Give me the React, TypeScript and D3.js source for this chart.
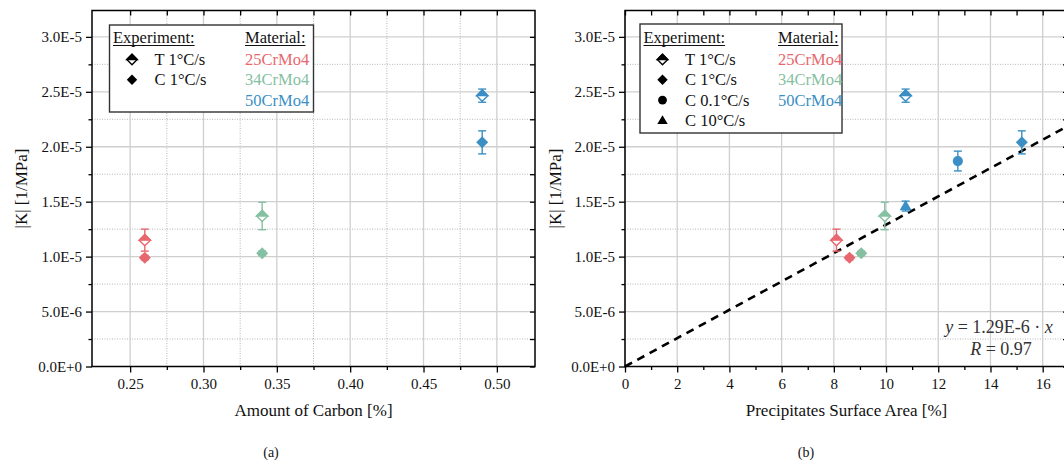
import { useEffect, useRef } from 'react';
import * as d3 from 'd3';

// materials and their colours
const materials = ['25CrMo4', '34CrMo4', '50CrMo4'];
const materialColors = ['#e8676e', '#86c0a2', '#3b8fc5'];
const carbonContent = [0.26, 0.34, 0.49];

// T 1°C/s
const tensionK = [1.15e-5, 1.37e-5, 2.465e-5];
const tensionErr = [0.1e-5, 0.125e-5, 0.06e-5];
const tensionArea = [8.1, 9.95, 10.75];

// C 1°C/s
const compK = [0.99e-5, 1.03e-5, 2.04e-5];
const compErr = [0.02e-5, 0.02e-5, 0.105e-5];
const compArea = [8.6, 9.05, 15.2];

// C 0.1°C/s and C 10°C/s (50CrMo4 only)
const slowK = [1.87e-5];
const slowErr = [0.09e-5];
const slowArea = [12.75];
const fastK = [1.46e-5];
const fastErr = [0.045e-5];
const fastArea = [10.75];

const yTicks = [0, 5e-6, 1e-5, 1.5e-5, 2e-5, 2.5e-5, 3e-5];
const yTickLabels = ['0.0E+0', '5.0E-6', '1.0E-5', '1.5E-5', '2.0E-5', '2.5E-5', '3.0E-5'];
const yMinor = [2.5e-6, 7.5e-6, 1.25e-5, 1.75e-5, 2.25e-5, 2.75e-5];
const carbonTicks = [0.25, 0.3, 0.35, 0.4, 0.45, 0.5];
const carbonMinor = [0.275, 0.325, 0.375, 0.425, 0.475];
const areaTicks = [0, 2, 4, 6, 8, 10, 12, 14, 16];
const areaMinor = [1, 3, 5, 7, 9, 11, 13, 15];
const fitSlope = 1.29e-6;

const FONT = 'Liberation Serif, Times New Roman, serif';

function diamond(r) {
  return `M0,${-r}L${r},0L0,${r}L${-r},0Z`;
}
function halfDiamond(r) {
  return `M${-r},0L0,${-r}L${r},0Z`;
}

function marker(g, shape, x, y, color, r) {
  const t = `translate(${x},${y})`;
  if (shape === 'half') {
    g.append('path').attr('d', diamond(r)).attr('transform', t)
      .attr('fill', '#fff').attr('stroke', color).attr('stroke-width', 1.4);
    g.append('path').attr('d', halfDiamond(r)).attr('transform', t)
      .attr('fill', color).attr('stroke', color).attr('stroke-width', 1.4);
  } else if (shape === 'diamond') {
    g.append('path').attr('d', diamond(r)).attr('transform', t).attr('fill', color);
  } else if (shape === 'circle') {
    g.append('circle').attr('cx', x).attr('cy', y).attr('r', r * 0.85).attr('fill', color);
  } else {
    g.append('path')
      .attr('d', `M0,${-r}L${r},${r * 0.7}L${-r},${r * 0.7}Z`)
      .attr('transform', t).attr('fill', color);
  }
}

function errorBar(g, x, y0, y1, color) {
  g.append('line').attr('x1', x).attr('x2', x).attr('y1', y0).attr('y2', y1)
    .attr('stroke', color).attr('stroke-width', 1.4);
  [y0, y1].forEach((yy) => {
    g.append('line').attr('x1', x - 4).attr('x2', x + 4).attr('y1', yy).attr('y2', yy)
      .attr('stroke', color).attr('stroke-width', 1.4);
  });
}

function drawPanel(svg, cfg) {
  const { x, y, majorX, minorX, minorGridX, xFormat, xTitle, caption, captionX, labelX } = cfg;
  const [left, right] = x.range();
  const [bottom, top] = y.range();
  const g = svg.append('g');

  // grid
  if (minorGridX) {
    g.selectAll('.gxm').data(minorX).enter().append('line')
      .attr('x1', (d) => x(d)).attr('x2', (d) => x(d)).attr('y1', top).attr('y2', bottom)
      .attr('stroke', '#b5b5b5').attr('stroke-width', 1).attr('stroke-dasharray', '1,1.5');
  }
  g.selectAll('.gym').data(yMinor).enter().append('line')
    .attr('x1', left).attr('x2', right).attr('y1', (d) => y(d)).attr('y2', (d) => y(d))
    .attr('stroke', '#b5b5b5').attr('stroke-width', 1).attr('stroke-dasharray', '1,1.5');
  g.selectAll('.gx').data(majorX).enter().append('line')
    .attr('x1', (d) => x(d)).attr('x2', (d) => x(d)).attr('y1', top).attr('y2', bottom)
    .attr('stroke', '#cfcfcf').attr('stroke-width', 1.3);
  g.selectAll('.gy').data(yTicks.slice(1)).enter().append('line')
    .attr('x1', left).attr('x2', right).attr('y1', (d) => y(d)).attr('y2', (d) => y(d))
    .attr('stroke', '#cfcfcf').attr('stroke-width', 1.3);

  // axes
  const styleAxis = (sel) => {
    sel.select('.domain').remove();
    sel.selectAll('line').attr('stroke', '#000').attr('stroke-width', 1.3);
    sel.selectAll('text').attr('font-family', FONT).attr('font-size', 15).attr('fill', '#111');
  };
  g.append('g').attr('transform', `translate(0,${bottom})`)
    .call(d3.axisBottom(x).tickValues(majorX).tickSize(6).tickPadding(6).tickFormat(xFormat))
    .call(styleAxis);
  g.append('g').attr('transform', `translate(0,${bottom})`)
    .call(d3.axisBottom(x).tickValues(minorX).tickSize(3.5).tickFormat(() => ''))
    .call(styleAxis);
  g.append('g').attr('transform', `translate(0,${top})`)
    .call(d3.axisTop(x).tickValues(majorX.concat(minorX)).tickSize(-5).tickFormat(() => ''))
    .call(styleAxis);
  g.append('g').attr('transform', `translate(${left},0)`)
    .call(d3.axisLeft(y).tickValues(yTicks).tickSize(6).tickPadding(4)
      .tickFormat((d, i) => yTickLabels[i]))
    .call(styleAxis);
  g.append('g').attr('transform', `translate(${left},0)`)
    .call(d3.axisLeft(y).tickValues(yMinor).tickSize(3.5).tickFormat(() => ''))
    .call(styleAxis);
  g.append('g').attr('transform', `translate(${right},0)`)
    .call(d3.axisRight(y).tickValues(yTicks.concat(yMinor)).tickSize(-5).tickFormat(() => ''))
    .call(styleAxis);

  g.append('rect').attr('x', left).attr('y', top).attr('width', right - left)
    .attr('height', bottom - top).attr('fill', 'none').attr('stroke', '#000').attr('stroke-width', 1.5);

  // titles
  g.append('text').attr('x', (left + right) / 2).attr('y', 416).attr('text-anchor', 'middle')
    .attr('font-family', FONT).attr('font-size', 17).attr('fill', '#111').text(xTitle);
  g.append('text').attr('transform', `translate(${labelX},${(top + bottom) / 2}) rotate(-90)`)
    .attr('text-anchor', 'middle').attr('font-family', FONT).attr('font-size', 17)
    .attr('fill', '#111').text('|K| [1/MPa]');
  g.append('text').attr('x', captionX).attr('y', 457).attr('text-anchor', 'middle')
    .attr('font-family', FONT).attr('font-size', 14).attr('fill', '#111').text(caption);
  return g;
}

function drawLegend(svg, box, rows) {
  const g = svg.append('g');
  g.append('rect').attr('x', box.x).attr('y', box.y).attr('width', box.w).attr('height', box.h)
    .attr('fill', '#fff').attr('stroke', '#333').attr('stroke-width', 1.4);
  const txt = (x, y, s, color = '#111') =>
    g.append('text').attr('x', x).attr('y', y).attr('font-family', FONT).attr('font-size', 16.5)
      .attr('fill', color).text(s);
  const e = txt(box.x + 3.5, 43, 'Experiment:');
  const m = txt(box.matX, 43, 'Material:');
  [e, m].forEach((t) => {
    const b = t.node().getBBox();
    g.append('line').attr('x1', b.x).attr('x2', b.x + b.width).attr('y1', 45.5).attr('y2', 45.5)
      .attr('stroke', '#111').attr('stroke-width', 1);
  });
  rows.forEach((r, i) => {
    const cy = 59.5 + i * 20.3;
    marker(g, r.shape, box.x + 22.5, cy, '#000', 5.2);
    txt(box.x + 45, cy + 5.5, r.label);
  });
  materials.forEach((mat, i) => {
    txt(box.matX, 59.5 + i * 20.3 + 5.5, mat, materialColors[i]);
  });
}

export default function App() {
  const svgRef = useRef(null);

  useEffect(() => {
    const svg = d3.select(svgRef.current);
    svg.selectAll('*').remove();

    const y = d3.scaleLinear().domain([0, 3.24e-5]).range([366.5, 10.5]);

    // ---------- panel (a)
    const xa = d3.scaleLinear().domain([0.224, 0.526]).range([92, 535]);
    const ga = drawPanel(svg, {
      x: xa, y, majorX: carbonTicks, minorX: carbonMinor, minorGridX: true,
      xFormat: d3.format('.2f'), xTitle: 'Amount of Carbon [%]', caption: '(a)',
      captionX: 271, labelX: 27,
    });
    materials.forEach((_, i) => {
      const c = materialColors[i];
      errorBar(ga, xa(carbonContent[i]), y(tensionK[i] + tensionErr[i]), y(tensionK[i] - tensionErr[i]), c);
      errorBar(ga, xa(carbonContent[i]), y(compK[i] + compErr[i]), y(compK[i] - compErr[i]), c);
    });
    materials.forEach((_, i) => {
      const c = materialColors[i];
      marker(ga, 'diamond', xa(carbonContent[i]), y(compK[i]), c, 6);
      marker(ga, 'half', xa(carbonContent[i]), y(tensionK[i]), c, 5.6);
    });
    drawLegend(svg, { x: 109.5, y: 25, w: 204, h: 87, matX: 245 }, [
      { shape: 'half', label: 'T 1°C/s' },
      { shape: 'diamond', label: 'C 1°C/s' },
    ]);

    // ---------- panel (b)
    const xb = d3.scaleLinear().domain([0, 16.97]).range([625, 1068]);
    const gb = drawPanel(svg, {
      x: xb, y, majorX: areaTicks, minorX: areaMinor, minorGridX: false,
      xFormat: d3.format('d'), xTitle: 'Precipitates Surface Area [%]', caption: '(b)',
      captionX: 806, labelX: 561,
    });

    // fit line
    const xmax = xb.domain()[1];
    gb.append('line')
      .attr('x1', xb(0)).attr('y1', y(0)).attr('x2', xb(xmax)).attr('y2', y(fitSlope * xmax))
      .attr('stroke', '#000').attr('stroke-width', 2.6).attr('stroke-dasharray', '8,6');

    const blue = materialColors[2];
    materials.forEach((_, i) => {
      const c = materialColors[i];
      errorBar(gb, xb(tensionArea[i]), y(tensionK[i] + tensionErr[i]), y(tensionK[i] - tensionErr[i]), c);
      errorBar(gb, xb(compArea[i]), y(compK[i] + compErr[i]), y(compK[i] - compErr[i]), c);
    });
    errorBar(gb, xb(slowArea[0]), y(slowK[0] + slowErr[0]), y(slowK[0] - slowErr[0]), blue);
    errorBar(gb, xb(fastArea[0]), y(fastK[0] + fastErr[0]), y(fastK[0] - fastErr[0]), blue);
    materials.forEach((_, i) => {
      const c = materialColors[i];
      marker(gb, 'diamond', xb(compArea[i]), y(compK[i]), c, 6);
      marker(gb, 'half', xb(tensionArea[i]), y(tensionK[i]), c, 5.6);
    });
    marker(gb, 'circle', xb(slowArea[0]), y(slowK[0]), blue, 6);
    marker(gb, 'triangle', xb(fastArea[0]), y(fastK[0]), blue, 6);

    // fit annotation
    const ann = gb.append('text').attr('x', 999).attr('y', 333).attr('text-anchor', 'middle')
      .attr('font-family', FONT).attr('font-size', 18).attr('fill', '#333');
    ann.append('tspan').attr('font-style', 'italic').text('y');
    ann.append('tspan').text(' = 1.29E-6 · ');
    ann.append('tspan').attr('font-style', 'italic').text('x');
    const ann2 = gb.append('text').attr('x', 1001).attr('y', 355).attr('text-anchor', 'middle')
      .attr('font-family', FONT).attr('font-size', 18).attr('fill', '#333');
    ann2.append('tspan').attr('font-style', 'italic').text('R');
    ann2.append('tspan').text(' = 0.97');

    drawLegend(svg, { x: 640, y: 24, w: 202, h: 109, matX: 778 }, [
      { shape: 'half', label: 'T 1°C/s' },
      { shape: 'diamond', label: 'C 1°C/s' },
      { shape: 'circle', label: 'C 0.1°C/s' },
      { shape: 'triangle', label: 'C 10°C/s' },
    ]);
  }, []);

  return (
    <svg
      ref={svgRef}
      width={1064}
      height={464}
      style={{ position: 'fixed', left: 0, top: 0, background: '#fff' }}
    />
  );
}
